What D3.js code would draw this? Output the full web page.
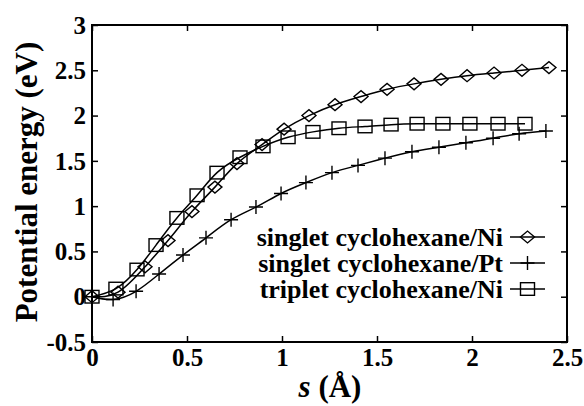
<!DOCTYPE html>
<html><head><meta charset="utf-8">
<script src="https://cdn.jsdelivr.net/npm/d3@7"></script>
<style>
html,body{margin:0;padding:0;background:#fff;}
text{font-family:"Liberation Serif","Times New Roman",serif;font-weight:bold;fill:#000;}
</style></head>
<body><svg id="c" width="584" height="406"></svg>
<script>
const xTicks = [0, 0.5, 1, 1.5, 2, 2.5];
const yTicks = [-0.5, 0, 0.5, 1, 1.5, 2, 2.5, 3];
const seriesNames = ["singlet cyclohexane/Ni", "singlet cyclohexane/Pt", "triplet cyclohexane/Ni"];

const niS = [0, 0.137, 0.279, 0.400, 0.526, 0.647, 0.763, 0.895, 1.011, 1.142, 1.279, 1.416, 1.553, 1.695, 1.837, 1.974, 2.116, 2.263, 2.405];
const niE = [0, 0.05, 0.33, 0.62, 0.94, 1.21, 1.47, 1.68, 1.85, 2.00, 2.12, 2.21, 2.29, 2.35, 2.40, 2.44, 2.47, 2.50, 2.53];

const ptS = [0, 0.111, 0.232, 0.353, 0.479, 0.600, 0.732, 0.863, 0.995, 1.126, 1.263, 1.400, 1.542, 1.684, 1.826, 1.968, 2.111, 2.248, 2.389];
const ptE = [0, -0.03, 0.06, 0.25, 0.46, 0.65, 0.85, 0.99, 1.14, 1.26, 1.37, 1.45, 1.53, 1.60, 1.65, 1.70, 1.75, 1.80, 1.83];

const trS = [0, 0.126, 0.237, 0.337, 0.447, 0.553, 0.658, 0.779, 0.900, 1.032, 1.163, 1.300, 1.437, 1.574, 1.711, 1.847, 1.989, 2.137, 2.279];
const trE = [0, 0.09, 0.30, 0.57, 0.87, 1.12, 1.37, 1.54, 1.66, 1.76, 1.82, 1.86, 1.88, 1.90, 1.91, 1.91, 1.91, 1.91, 1.91];

const svg = d3.select("#c");
const L = 92, R = 567, T = 25, B = 342;
const x = d3.scaleLinear().domain([0, 2.5]).range([L, R]);
const y = d3.scaleLinear().domain([-0.5, 3]).range([B, T]);
const tickLen = 6;

// axes
const fmt = d => String(d);
const gB = svg.append("g").attr("transform", `translate(0,${B})`)
  .call(d3.axisBottom(x).tickValues(xTicks).tickFormat(fmt).tickSizeInner(-tickLen).tickSizeOuter(0).tickPadding(0));
const gT = svg.append("g").attr("transform", `translate(0,${T})`)
  .call(d3.axisTop(x).tickValues(xTicks).tickFormat("").tickSizeInner(-tickLen).tickSizeOuter(0));
const gL = svg.append("g").attr("transform", `translate(${L},0)`)
  .call(d3.axisLeft(y).tickValues(yTicks).tickFormat(fmt).tickSizeInner(-tickLen).tickSizeOuter(0).tickPadding(0));
const gR = svg.append("g").attr("transform", `translate(${R},0)`)
  .call(d3.axisRight(y).tickValues(yTicks).tickFormat("").tickSizeInner(-tickLen).tickSizeOuter(0));
[gB, gT, gL, gR].forEach(g => {
  g.select(".domain").remove();
  g.selectAll("line").attr("stroke", "#000").attr("stroke-width", 1.5);
});
gB.selectAll("text").attr("font-size", 25).attr("y", 24).attr("dy", 0)
  .style("font-family", '"Liberation Serif",serif').style("font-weight", "bold");
gL.selectAll("text").attr("font-size", 25).attr("x", -6).attr("dy", "0.33em")
  .style("font-family", '"Liberation Serif",serif').style("font-weight", "bold");

svg.append("rect").attr("x", L).attr("y", T).attr("width", R - L).attr("height", B - T)
  .attr("fill", "none").attr("stroke", "#000").attr("stroke-width", 2);

// markers
const ms = 7;
function marker(g, type, cx, cy) {
  if (type === "diamond") {
    g.append("path").attr("d", `M${cx - ms},${cy}L${cx},${cy - ms * 0.85}L${cx + ms},${cy}L${cx},${cy + ms * 0.85}Z`)
      .attr("fill", "none").attr("stroke", "#000").attr("stroke-width", 1.4);
  } else if (type === "plus") {
    g.append("path").attr("d", `M${cx - ms},${cy}H${cx + ms}M${cx},${cy - ms}V${cy + ms}`)
      .attr("fill", "none").attr("stroke", "#000").attr("stroke-width", 1.4);
  } else {
    g.append("rect").attr("x", cx - ms).attr("y", cy - ms * 0.9).attr("width", 2 * ms).attr("height", 1.8 * ms)
      .attr("fill", "none").attr("stroke", "#000").attr("stroke-width", 1.4);
  }
}

const series = [
  {name: seriesNames[0], s: niS, e: niE, type: "diamond"},
  {name: seriesNames[1], s: ptS, e: ptE, type: "plus"},
  {name: seriesNames[2], s: trS, e: trE, type: "square"}
];
const line = d3.line().x(d => x(d[0])).y(d => y(d[1])).curve(d3.curveNatural);
series.forEach(sr => {
  const pts = sr.s.map((v, i) => [v, sr.e[i]]);
  const g = svg.append("g");
  g.append("path").attr("d", line(pts)).attr("fill", "none").attr("stroke", "#000").attr("stroke-width", 1.5);
  pts.forEach(p => marker(g, sr.type, x(p[0]), y(p[1])));
});

// legend
const legY = [237, 263, 289];
series.forEach((sr, i) => {
  const g = svg.append("g");
  g.append("text").attr("x", 503).attr("y", legY[i]).attr("dy", "0.33em").attr("text-anchor", "end")
    .attr("font-size", 26).text(sr.name);
  g.append("line").attr("x1", 510).attr("x2", 545).attr("y1", legY[i]).attr("y2", legY[i])
    .attr("stroke", "#000").attr("stroke-width", 1.5);
  marker(g, sr.type, 527.5, legY[i]);
});

// titles
svg.append("text").attr("transform", "translate(37,182) rotate(-90)").attr("text-anchor", "middle")
  .attr("font-size", 31).text("Potential energy (eV)");
const xt = svg.append("text").attr("x", 330).attr("y", 397).attr("text-anchor", "middle").attr("font-size", 31);
xt.append("tspan").attr("font-style", "italic").text("s");
xt.append("tspan").text(" (Å)");
</script></body></html>
